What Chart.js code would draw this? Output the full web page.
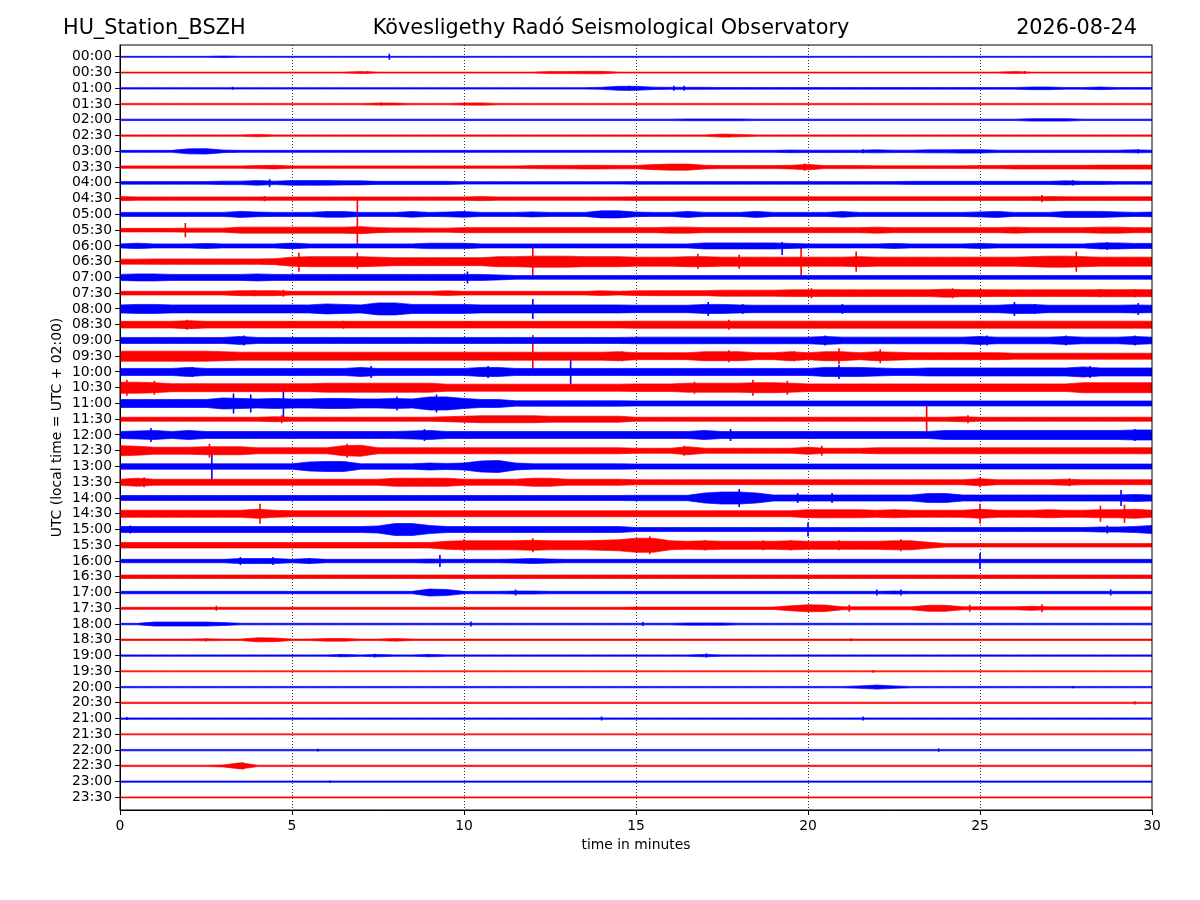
<!DOCTYPE html>
<html>
<head>
<meta charset="utf-8">
<script src="https://cdn.jsdelivr.net/npm/chart.js@4.4.0/dist/chart.umd.min.js"></script>
<style>
  body { margin: 0; background: #fff; }
  #wrap { width: 1200px; height: 900px; }
</style>
</head>
<body>
<div id="wrap"><canvas id="heli" width="1200" height="900"></canvas></div>
<script>
// header texts
var stationName = 'HU_Station_BSZH';
var observatory = 'Kövesligethy Radó Seismological Observatory';
var dayLabel = '2026-08-24';

// one trace per half hour (UTC start times)
var timeLabels = ['00:00','00:30','01:00','01:30','02:00','02:30','03:00','03:30','04:00','04:30','05:00','05:30',
  '06:00','06:30','07:00','07:30','08:00','08:30','09:00','09:30','10:00','10:30','11:00','11:30',
  '12:00','12:30','13:00','13:30','14:00','14:30','15:00','15:30','16:00','16:30','17:00','17:30',
  '18:00','18:30','19:00','19:30','20:00','20:30','21:00','21:30','22:00','22:30','23:00','23:30'];

// envelope half-amplitude of every trace, one value per half minute (0 .. 30 min)
// amplitude unit: 1/15.7 of the trace spacing
var sampleStep = 0.5;
var ampPerRow = 15.7;

var a0000 = [.5,.5,.5,.5,.5,.5,.8,.5,.5,.5, .5,.5,.5,.5,.5,.5,.5,.5,.5,.5, .5,.5,.5,.5,.5,.5,.5,.5,.5,.5, .5,.5,.5,.5,.5,.5,.5,.5,.5,.5, .5,.5,.5,.5,.5,.5,.5,.5,.5,.5, .5,.5,.5,.5,.5,.5,.5,.5,.5,.5, .5];
var a0030 = [.5,.5,.5,.5,.5,.5,.5,.5,.5,.5, .5,.5,.5,.5,1,.5,.5,.5,.5,.5, .5,.5,.5,.5,.5,1,1,1.2,1.2,.5, .5,.5,.5,.5,.5,.5,.5,.5,.5,.5, .5,.5,.5,.5,.5,.5,.5,.5,.5,.5, .5,.5,1,.5,.5,.5,.5,.5,.5,.5, .5];
var a0100 = [.7,.7,.7,.7,.7,.7,.7,.7,.7,.7, .7,.7,.7,.7,.7,.7,.7,.7,.7,.7, .7,.7,.7,.7,.7,.7,.7,.7,1,2, 2,1.2,1,1,1,.8,.8,.8,.8,.8, .8,.8,.8,.8,.8,.8,.8,.8,.8,.8, .8,.8,.8,1.3,1.3,.8,.8,1.3,.8,.8, .8];
var a0130 = [.7,.7,.7,.7,.7,.7,.7,.7,.7,.7, .7,.7,.7,.7,.7,1,1,.7,.7,.7, 1,1.2,.7,.7,.7,.7,.7,.7,.7,.7, .7,.7,.7,.7,.7,.7,.7,.7,.7,.7, .7,.7,.7,.7,.7,.7,.7,.7,.7,.7, .7,.7,.7,.7,.7,.7,.7,.7,.7,.7, .7];
var a0200 = [.7,.7,.7,.7,.7,.7,.7,.7,.7,.7, .7,.7,.7,.7,.7,.7,.7,.7,.7,.7, .7,.7,.7,.7,.7,.7,.7,.7,.7,.7, .7,.7,.7,.9,.9,.9,.9,.7,.7,.7, .7,.7,.7,.7,.7,.7,.7,.7,.7,.7, .7,.7,.7,1.2,1.2,1.2,.7,.7,.7,.7, .7];
var a0230 = [.7,.7,.7,.7,.7,.7,.7,.7,1.2,.7, .7,.7,.7,.7,.7,.7,.7,.7,.7,.7, .7,.7,.7,.7,.7,.7,.7,.7,.7,.7, .7,.7,.7,.7,.7,1.5,1.2,.7,.7,.7, .7,.7,.7,.7,.7,.7,.7,.7,.7,.7, .7,.7,.7,.7,.7,.7,.7,.7,.7,.7, .7];
var a0300 = [1,1,1,1,2.5,2.7,1.3,1,1,1, 1,1,1,1,1,1,1,1,1,1, 1,1,1,1,1,1,1,1,1,1, 1,1,1,1,1,1,1,1,1,1.3, 1.2,1.2,1.2,1.2,1.5,1.2,1.2,1.5,1.5,1.7, 1.7,1.2,1.2,1.2,1.2,1.2,1.2,1.2,1.2,1.5, 1.2];
var a0330 = [1.2,1.2,1.2,1.2,1.2,1.2,1.2,1.2,1.5,1.8, 1.2,1.2,1.2,1.2,1.2,1.2,1.2,1.2,1.2,1.2, 1.2,1.2,1.2,1.2,1.5,1.7,1.7,1.8,1.8,1.7, 1.7,2.5,3,3,1.8,1.5,1.5,1.5,1.5,1.8, 2.7,1.5,1.5,1.5,1.3,1.3,1.3,1.3,1.3,1.3, 1.5,1.5,1.8,1.8,1.8,1.8,1.8,2,2,2, 2];
var a0400 = [1.3,1.3,1.3,1.3,1.3,1.3,1.7,1.7,2.3,1.7, 2.3,2.3,2.3,2,2,1.5,1.5,1.5,1.5,1.5, 1.2,1.2,1.2,1.2,1.2,1.2,1.2,1.2,1.2,1.2, 1.3,1.3,1.3,1.3,1.3,1.3,1.3,1.3,1.3,1.3, 1.3,1.3,1.3,1.3,1.3,1.3,1.5,1.5,1.5,1.5, 1.5,1.5,1.5,1.5,1.5,2,1.5,1.5,1.3,1.3, 1.3];
var a0430 = [2,1.7,1.7,1.7,1.7,1.7,1.7,1.7,1.7,1.7, 1.7,1.7,1.7,1.7,1.7,1.7,1.7,1.7,1.7,1.7, 1.7,2,1.7,1.7,1.7,1.7,1.7,1.7,1.7,1.7, 1.8,1.8,1.8,1.8,1.8,1.8,1.8,1.8,1.8,1.8, 1.8,1.8,1.8,1.8,1.8,1.8,1.8,1.8,1.8,1.8, 1.8,1.8,1.8,1.8,2,1.8,1.8,1.8,1.8,1.8, 1.8];
var a0500 = [2,2,2,2,2,2,2,3,2.3,2, 2,2,2.8,2.8,2,2,2,2.8,2,2.3, 2.8,2,2,2,2.5,2,2,2,3.5,3.5, 2.3,2,2,3,2,2,2,3,2,2, 2,2,2.8,2,2,2,2,2,2,2, 2.5,3,2,2,2,3,3,3,2.5,2, 2.3];
var a0530 = [1.8,1.8,1.8,1.8,2,2,2,3,3,3, 3,3,3,3,3.5,2.5,2.2,2.2,2,2, 2.5,2.5,2.5,2.5,2.5,2.5,2.5,2.5,2.5,2.5, 2.5,2.5,3,3,2.5,2.5,2.5,2.5,2.5,2.5, 2.5,2.5,2.5,2.5,3,2.5,2.5,2.5,2.5,2.5, 2.5,2.5,3,2.5,2.5,2.5,2.5,3,3,2.5, 2.5];
var a0600 = [2,2.7,2,2,2,2.5,2,2,2,2, 2.8,2,2,2,2,2,2,2,2.7,2.7, 2.7,2,2,2,2,2,2,2,2,2, 2,2,2,2,3,3,3,3,3,2.5, 2,2,2,2,2,2.5,2,2,2,2, 2.5,2,2,2,2,2,2,3,3,2.5, 2.5];
var a0630 = [2.5,2.5,2.7,2.7,2.7,2.7,2.7,2.7,2.7,3, 4.5,5,5,5,5,4.5,4,4,4,4, 4,4,5,5,5.5,5.5,5.5,5,5,5, 4.5,4.5,4.5,5,5,4.5,4.5,4.5,4.5,4.5, 4.5,4.5,4.5,5,4.5,4.5,4.5,4.5,4.5,4.5, 4.5,4.5,4.5,5,5.5,5.5,5,4.5,4.5,4.5, 4.5];
var a0700 = [3,3.5,3.5,3,3,3,3,3,3.5,3, 3,3,3,3,3,3,3,3,3,3, 3,3,2.5,1.8,1.8,1.8,1.8,1.8,1.8,1.8, 1.8,1.8,1.8,1.8,1.8,1.8,1.8,1.8,1.8,1.8, 1.8,1.8,1.8,1.8,1.8,1.8,1.8,1.8,1.8,1.8, 1.8,1.8,1.8,1.8,1.8,1.8,1.8,1.8,1.8,1.8, 1.8];
var a0730 = [1.8,1.8,1.8,1.8,1.8,1.8,1.8,2.5,2.5,2.5, 1.8,1.8,1.8,1.8,1.8,1.8,1.8,1.8,1.8,2.3, 1.8,1.8,1.8,1.8,1.8,1.8,1.8,1.8,2.3,1.8, 2.3,2.5,2.5,2.5,2.5,3,3,3,3,3.3, 3.3,3.3,3.3,3.3,3.3,3.3,3.3,3.3,4,3.5, 3.5,3.3,3.3,3.3,3.3,3.3,3.3,3.5,3.5,3.5, 3.5];
var a0800 = [4,4.5,4.5,4,4,4,4,4,4,4, 4,4,5,4.5,4,6,6,4.5,4.5,4.5, 4.5,4,4,4,4,4,4,4,4,4, 3.7,3.7,3.7,3.7,4.5,4.5,4,3.7,3.7,3.7, 3.7,3.7,3.7,3.7,3.7,3.7,3.7,3.7,3.7,3.7, 3.7,3.7,4.5,4.5,3.7,3.7,3.7,3.7,3.7,4, 3.7];
var a0830 = [3.3,3.3,3.3,3.3,4,3.3,3.3,3.3,3.3,3.3, 3.3,3.3,3.3,3.3,3.3,3.3,3.3,3.3,3.3,3.3, 3.3,3.3,3.3,3.3,3.3,3.3,3.3,3.3,3.3,3.3, 3.5,3.5,3.5,3.5,3.5,3.5,3.5,3.5,3.5,3.5, 3.5,3.5,3.5,3.5,3.5,3.5,3.5,3.5,3.5,3.5, 3.5,3.5,3.5,3.5,3.5,3.5,3.5,3.5,3.5,3.5, 3.5];
var a0900 = [3,3,3,3,3,3,3,4,3,3, 3,3,3,3,3,3,3,3,3,3, 3,3,3,3,3,3,3,3,3,3, 3.3,3.3,3.3,3.3,3.3,3.3,3.3,3.3,3.3,3.3, 3.3,4,3.3,3.3,3.3,3.3,3.3,3.3,3.3,3.3, 4,3.3,3.3,3.3,3.3,4,3.3,3.3,3.3,4, 3.3];
var a0930 = [5,5,5,5,5,5,4.5,4,4,4, 4,4,4,4,4,4,4,4,4,4, 4,4,4,4,4,4,4,4,4,4.5, 3.5,3.5,3.5,3.5,4.5,4.5,4.5,3.5,3.5,4.5, 3.5,4.5,4.5,3.5,4.5,4,3.5,3.5,3.5,3.5, 3.5,3.5,3,3,3,3,3,3,3,3, 3];
var a1000 = [3.5,3.5,3.5,3.5,4.5,3.5,3.5,3.5,3.5,3.5, 3.5,3.5,3.5,3.5,4.5,3.5,3.5,3.5,3.5,3.5, 3.5,4.5,4.5,3.5,3.5,3.5,3.5,3.5,3.5,3.5, 3.5,3.5,3.5,3.5,3.5,3.5,3.5,3.5,3.5,3.5, 3.5,4.5,4.5,4.5,4,3.5,3.5,4,4,4, 4,4,4,4,4,4,5,4,4,4, 4];
var a1030 = [5.5,5.5,5,4,4,4,4,4,4,4, 4,4,4.5,4.5,4.5,4.5,4.5,4.5,4.5,3.5, 3.5,3.5,3.5,3.5,3.5,3.5,3.5,3.5,3.5,3.5, 3.8,3.8,3.8,4.5,4.5,4.5,4.5,5,5,4.5, 3.8,3.8,3.8,3.8,3.8,3.8,3.8,3.8,3.8,3.8, 3.8,3.8,3.8,3.8,3.8,3.8,5,5,5,5, 5];
var a1100 = [4,4,4,4,4,4,5.5,5,4.5,5, 4.5,4.5,5,5,4.5,4.5,5,4.5,6.5,6.5, 5,4,4,2.7,2.7,2.7,2.7,2.7,2.7,2.7, 2.5,2.5,2.5,2.5,2.5,2.5,2.5,2.5,2.5,2.5, 2.5,2.5,2.5,2.5,2.5,2.5,2.5,2.5,2.5,2.5, 2.5,2.5,2.5,2.5,2.5,2.5,2.5,2.5,2.5,2.5, 2.5];
var a1130 = [2,2,2,2,2,2,2,2,2,2.5, 2,2,2,2,2,2,2,2,2,2.5, 3,3.5,3.5,3.5,3.5,3,3,3,3,3, 2,2,2,2,2,2,2,2,2,2, 2,2,2,2,2,2,2,2,2,2.5, 2,2,2,2,2,2,2,2,2,2, 2];
var a1200 = [3.5,4,4.5,3.5,4.5,3.5,3.5,3.5,3.5,3.5, 3.5,3.5,3.5,3.5,3.5,3.5,3.5,4,4.5,3.5, 3.5,3.5,3.5,3.5,3.5,3.5,3.5,3.5,3.5,3.5, 3.5,3.5,3.5,3.5,4.5,3.5,3.5,3.5,3.5,3.5, 3.5,3.5,3.5,3.5,3.5,3.5,3.5,3.5,4.5,4.5, 4.5,4.5,4.5,4.5,4.5,4.5,4.5,4.5,4.5,5, 5];
var a1230 = [5,4.5,3.5,3.5,3.5,4,4,4,3,3, 3,3,3,5,5.5,3,3,3,3,3, 3,3,3,3,3,3,3,3,3,3, 2.5,2.5,2.5,4,2.5,2.5,2.5,2.5,2.5,2.5, 3.5,2.5,2.5,2.5,3,3,3,3,3,3, 3,3,3,3,3,3,3,3,3,3, 3];
var a1300 = [2.7,2.7,2.7,2.7,2.7,2.7,2.7,2.7,2.7,2.7, 2.7,4.5,5,5,2.7,2.7,2.7,2.7,3.5,3, 3.5,5.5,6,3.5,2.7,2.7,2.7,2.7,2.7,2.7, 2.5,2.5,2.5,2.5,2.5,2.5,2.5,2.5,2.5,2.5, 2.5,2.5,2.5,2.5,2.5,2.5,2.5,2.5,2.5,2.5, 2.5,2.5,2.5,2.5,2.5,2.5,2.5,2.5,2.5,2.5, 2.5];
var a1330 = [3,4,3,3,3,3,3,3,3,3, 3,3,3,3,3,3,4,4,4,4, 3,3,3,3,4,4,3,3,3,3, 2.5,2.5,2.5,2.5,2.5,2.5,2.5,2.5,2.5,2.5, 2.5,2.5,2.5,2.5,2.5,2.5,2.5,2.5,2.5,2.5, 3.5,2.5,2.5,2.5,2.5,3,2.5,2.5,2.5,2.5, 2.5];
var a1400 = [2.5,2.5,2.5,2.5,2.5,2.5,2.5,2.5,2.5,2.5, 2.5,2.5,2.5,2.5,2.5,2.5,2.5,2.5,2.5,2.5, 2.5,2.5,2.5,2.5,2.5,2.5,2.5,2.5,2.5,2.5, 2.7,2.7,2.7,2.7,5,6,6,5,3,3, 3,3,3,3,3,3,3,4.5,4.5,3, 3,3,3,3,3,3,3,3,3,3.5, 3];
var a1430 = [3.5,3.5,3.5,3.5,3.5,3.5,3.5,3.5,4.5,3.5, 3,3,3,3,3,3,3,3,3,3, 3,3,3,3,3,3,3,3,3,3, 3,3,3,3,3,3,3,3,3,3, 4,4,4,4,3.5,4,3.5,3.5,3.5,3.5, 4.5,3.5,3.5,3.5,4,3.5,3.5,4,4,4.5, 3.5];
var a1500 = [3,3,3,3,3,3,3,3,3,3, 3,3,3,3,3,3.5,6,6,4,3, 3,3,3,3,3,3,3,3,3,3, 2,2,2,2,2,2,2,2,2,2, 2,2,2,2,2,2,2,2,2,2, 2,2,2,2,2,2,2,2.5,2.5,3, 4];
var a1530 = [2.7,2.7,2.7,2.7,2.7,2.7,2.7,2.7,2.7,2.7, 2.7,2.7,2.7,2.7,2.7,2.7,2.7,2.7,2.7,4, 4.5,4.5,4.5,4.5,5,4.5,4.5,4.5,5,5.5, 7,7,4.5,4,4.5,4,4,4,4,4.5, 4,4,4,4,4,4.5,4.5,3,1.7,1.7, 1.7,1.7,1.7,1.7,1.7,1.7,1.7,1.7,1.7,1.7, 1.7];
var a1600 = [1.7,1.7,1.7,1.7,1.7,1.7,1.7,2.5,2.5,2.5, 1.7,2.5,1.7,1.7,1.7,1.7,1.7,1.7,2,1.7, 1.7,1.7,1.7,2,2.5,2,1.7,1.7,1.7,1.7, 1.7,1.7,1.7,1.7,1.7,1.7,1.7,1.7,1.7,1.7, 1.7,1.7,1.7,1.7,1.7,1.7,1.7,1.7,1.7,1.7, 1.7,1.7,1.7,1.7,1.7,1.7,1.7,1.7,1.7,1.7, 1.7];
var a1630 = [1.7,1.7,1.7,1.7,1.7,1.7,1.7,1.7,1.7,1.7, 1.7,1.7,1.7,1.7,1.7,1.7,1.7,1.7,1.7,1.7, 1.7,1.7,1.7,1.7,1.7,1.7,1.7,1.7,1.7,1.7, 1.7,1.7,1.7,1.7,1.7,1.7,1.7,1.7,1.7,1.7, 1.7,1.7,1.7,1.7,1.7,1.7,1.7,1.7,1.7,1.7, 1.7,1.7,1.7,1.7,1.7,1.7,1.7,1.7,1.7,1.7, 1.7];
var a1700 = [1.2,1.2,1.2,1.2,1.2,1.2,1.2,1.2,1.2,1.2, 1.2,1.2,1.2,1.2,1.2,1.2,1.2,1.2,3.5,3, 1.2,1.2,1.2,1.5,1.5,1.2,1.2,1.2,1.2,1.2, 1.2,1.2,1.2,1.2,1.2,1.2,1.2,1.2,1.2,1.2, 1.2,1.2,1.2,1.2,1.2,1.5,1.2,1.2,1.2,1.2, 1.2,1.2,1.2,1.2,1.2,1.2,1.2,1.2,1.2,1.2, 1.2];
var a1730 = [1,1,1,1,1,1,1,1,1,1, 1,1,1,1,1,1,1,1,1,1, 1,1,1,1,1,1,1,1,1,1, 1.2,1.2,1.2,1.2,1.2,1.2,1.2,1.2,1.2,2.5, 3.5,3.2,1.5,1.5,1.5,1.5,1.5,3,3,1.5, 1.5,1.5,1.5,2,1.5,1.5,1.5,1.5,1.5,1.5, 1.5];
var a1800 = [.7,.7,2,2,2,2,1.5,.8,.8,.8, .8,.8,.8,.8,.8,.8,.8,.8,.8,.8, .8,.8,.8,.8,.8,.8,.8,.8,.8,.8, .8,.8,.8,1.1,1.1,1.1,.8,.8,.8,.8, .8,.8,.8,.8,.8,.8,.8,.8,.8,.8, .8,.8,.8,.8,.8,.8,.8,.8,.8,.8, .8];
var a1830 = [.7,.7,.7,.7,.7,1,.7,.7,2,1.8, .7,.7,1.3,1.3,.7,.7,1.3,.7,.7,.7, .7,.7,.7,.7,.7,.7,.7,.7,.7,.7, .7,.7,.7,.7,.7,.7,.7,.7,.7,.7, .7,.7,.7,.7,.7,.7,.7,.7,.7,.7, .7,.7,.7,.7,.7,.7,.7,.7,.7,.7, .7];
var a1900 = [.7,.7,.7,.7,.7,.7,.7,.7,.7,.7, .7,.7,.7,1.2,.7,1.2,.7,.7,1.2,.7, .7,.7,.7,.7,.7,.7,.7,.7,.7,.7, .7,.7,.7,.7,1.2,.7,.7,.7,.7,.7, .7,.7,.7,.7,.7,.7,.7,.7,.7,.7, .7,.7,.7,.7,.7,.7,.7,.7,.7,.7, .7];
var a1930 = [.5,.5,.5,.5,.5,.5,.5,.5,.5,.5, .5,.5,.5,.5,.5,.5,.5,.5,.5,.5, .5,.5,.5,.5,.5,.5,.5,.5,.5,.5, .5,.5,.5,.5,.5,.5,.5,.5,.5,.5, .5,.5,.5,.5,.5,.5,.5,.5,.5,.5, .5,.5,.5,.5,.5,.5,.5,.5,.5,.5, .5];
var a2000 = [.7,.7,.7,.7,.7,.7,.7,.7,.7,.7, .7,.7,.7,.7,.7,.7,.7,.7,.7,.7, .7,.7,.7,.7,.7,.7,.7,.7,.7,.7, .7,.7,.7,.7,.7,.7,.7,.7,.7,.7, .7,.7,.7,1.2,2,1.2,.7,.7,.7,.7, .7,.7,.7,.7,.7,.7,.7,.7,.7,.7, .7];
var a2030 = [.7,.7,.7,.7,.7,.7,.7,.7,.7,.7, .7,.7,.7,.7,.7,.7,.7,.7,.7,.7, .7,.7,.7,.7,.7,.7,.7,.7,.7,.7, .7,.7,.7,.7,.7,.7,.7,.7,.7,.7, .7,.7,.7,.7,.7,.7,.7,.7,.7,.7, .7,.7,.7,.7,.7,.7,.7,.7,.7,.7, .7];
var a2100 = [.7,.7,.7,.7,.7,.7,.7,.7,.7,.7, .7,.7,.7,.7,.7,.7,.7,.7,.7,.7, .7,.7,.7,.7,.7,.7,.7,.7,.7,.7, .7,.7,.7,.7,.7,.7,.7,.7,.7,.7, .7,.7,.7,.7,.7,.7,.7,.7,.7,.7, .7,.7,.7,.7,.7,.7,.7,.7,.7,.7, .7];
var a2130 = [.5,.5,.5,.5,.5,.5,.5,.5,.5,.5, .5,.5,.5,.5,.5,.5,.5,.5,.5,.5, .5,.5,.5,.5,.5,.5,.5,.5,.5,.5, .5,.5,.5,.5,.5,.5,.5,.5,.5,.5, .5,.5,.5,.5,.5,.5,.5,.5,.5,.5, .5,.5,.5,.5,.5,.5,.5,.5,.5,.5, .5];
var a2200 = [.7,.7,.7,.7,.7,.7,.7,.7,.7,.7, .7,.7,.7,.7,.7,.7,.7,.7,.7,.7, .7,.7,.7,.7,.7,.7,.7,.7,.7,.7, .7,.7,.7,.7,.7,.7,.7,.7,.7,.7, .7,.7,.7,.7,.7,.7,.7,.7,.7,.7, .7,.7,.7,.7,.7,.7,.7,.7,.7,.7, .7];
var a2230 = [.7,.7,.7,.7,.7,.7,1,3,.7,.7, .7,.7,.7,.7,.7,.7,.7,.7,.7,.7, .7,.7,.7,.7,.7,.7,.7,.7,.7,.7, .7,.7,.7,.7,.7,.7,.7,.7,.7,.7, .7,.7,.7,.7,.7,.7,.7,.7,.7,.7, .7,.7,.7,.7,.7,.7,.7,.7,.7,.7, .7];
var a2300 = [.6,.6,.6,.6,.6,.6,.6,.6,.6,.6, .6,.6,.6,.6,.6,.6,.6,.6,.6,.6, .6,.6,.6,.6,.6,.6,.6,.6,.6,.6, .6,.6,.6,.6,.6,.6,.6,.6,.6,.6, .6,.6,.6,.6,.6,.6,.6,.6,.6,.6, .6,.6,.6,.6,.6,.6,.6,.6,.6,.6, .6];
var a2330 = [.5,.5,.5,.5,.5,.5,.5,.5,.5,.5, .5,.5,.5,.5,.5,.5,.5,.5,.5,.5, .5,.5,.5,.5,.5,.5,.5,.5,.5,.5, .5,.5,.5,.5,.5,.5,.5,.5,.5,.5, .5,.5,.5,.5,.5,.5,.5,.5,.5,.5, .5,.5,.5,.5,.5,.5,.5,.5,.5,.5, .5];

var envelopes = [a0000,a0030,a0100,a0130,a0200,a0230,a0300,a0330,a0400,a0430,a0500,a0530,
  a0600,a0630,a0700,a0730,a0800,a0830,a0900,a0930,a1000,a1030,a1100,a1130,
  a1200,a1230,a1300,a1330,a1400,a1430,a1500,a1530,a1600,a1630,a1700,a1730,
  a1800,a1830,a1900,a1930,a2000,a2030,a2100,a2130,a2200,a2230,a2300,a2330];

// short spikes: [trace, minute, amplitude up, amplitude down]
var spikes = [
  [0,7.83,3,3], [1,7.2,1.5,1.5], [1,26.3,1.5,1.5],
  [2,3.27,1.5,1.5], [2,14.8,2.5,2.5], [2,16.1,2.5,2.5], [2,16.4,2.5,2.5],
  [3,7.6,1.5,1.5], [5,17.7,1.7,1.7], [6,21.6,2,2], [6,29.6,2,2], [7,19.9,3.5,3.5],
  [8,4.35,3.5,4], [8,27.7,2.5,2.5], [9,4.2,2.5,2.5], [9,26.8,3.5,3.5],
  [11,1.9,7,7], [11,6.9,33,15], [12,19.25,4,9], [12,28.7,4,4],
  [13,5.2,9,10], [13,6.9,9,7], [13,12.0,15,15], [13,16.8,8,7], [13,18.0,7,7], [13,19.8,16,16], [13,21.4,10,10], [13,27.8,10,10],
  [14,10.1,6,6],
  [15,3.9,3,3], [15,4.75,3.5,3.5], [15,20.1,5,5], [15,24.2,5,5], [15,25.0,4,4], [15,28.5,4,4], [15,29.5,4,4],
  [16,12.0,10,10], [16,17.1,7,7], [16,18.1,5,5], [16,21.0,5,5], [16,26.0,7,7], [16,26.6,5,5], [16,29.6,6,6],
  [17,1.95,5,5], [17,6.5,4,4], [17,17.7,5,5],
  [18,3.6,5,5], [18,20.5,5,5], [18,25.2,5,5], [18,27.5,5,5], [18,29.5,5,5],
  [19,12.0,21,16], [19,14.6,5,5], [19,17.7,6,6], [19,19.6,5,5], [19,20.9,8,8], [19,22.1,7,7],
  [20,2.1,5,5], [20,7.3,6,6], [20,10.7,6,6], [20,13.1,15,15], [20,20.9,7,7], [20,28.2,6,6],
  [21,0.2,8,8], [21,1.0,7,7], [21,16.7,6,6], [21,18.4,8,8], [21,19.4,7,7],
  [22,3.3,10,10], [22,3.8,9,9], [22,4.75,19,17], [22,8.05,7,7], [22,9.2,9,9],
  [23,4.7,4,4], [23,23.45,15,15], [23,24.65,4,4],
  [24,0.9,7,7], [24,8.85,6,6], [24,17.75,6,6], [24,29.5,6,6],
  [25,2.6,7,7], [25,6.6,7,7], [25,16.4,5,5], [25,20.4,5,5],
  [26,2.67,19,16],
  [27,0.7,5,5], [27,25.0,5,5], [27,27.6,4,4],
  [28,18.0,9,9], [28,19.7,5,5], [28,20.7,5,5], [28,29.1,8,8],
  [29,4.07,10,10], [29,25.0,10,10], [29,27.2,4,4], [29,28.5,8,8], [29,29.2,9,9],
  [30,0.3,4,4], [30,20.0,7,7], [30,28.7,4,4],
  [31,10.0,6,6], [31,12.0,7,7], [31,15.4,9,9], [31,17.0,5,5], [31,18.7,5,5], [31,19.5,5,5], [31,20.9,5,5], [31,22.7,6,6],
  [32,3.5,4,4], [32,4.45,4,4], [32,5.5,3,3], [32,9.3,6,6], [32,25.0,8,8],
  [34,11.5,3,3], [34,22.0,3,3], [34,22.7,3,3], [34,28.8,3,3],
  [35,2.8,2.5,2.5], [35,21.2,3.5,3.5], [35,24.7,3.5,3.5], [35,26.8,4,4],
  [36,10.2,2.5,2.5], [36,15.2,2,2], [37,2.5,1.5,1.5], [37,21.25,1.5,1.5],
  [38,6.4,1.5,1.5], [38,7.4,1.8,1.8], [38,8.95,1.5,1.5], [38,17.05,2,2],
  [39,21.9,1.3,1.3], [40,22.0,2,2], [40,27.7,1.2,1.2], [41,29.5,1.7,1.7],
  [42,0.2,1.5,1.5], [42,14.0,2,2], [42,21.6,2,2],
  [44,5.75,1.3,1.3], [44,23.8,1.5,1.5], [45,3.57,3.5,3.5], [46,6.1,1.2,1.2]
];

var traceColors = ['#0000ff', '#ff0000'];
var xTicks = [0, 5, 10, 15, 20, 25, 30];

var datasets = [];
envelopes.forEach(function (env, row) {
  var color = traceColors[row % 2];
  var up = env.map(function (a, k) { return { x: k * sampleStep, y: row - a / ampPerRow }; });
  var down = env.map(function (a, k) { return { x: k * sampleStep, y: row + a / ampPerRow }; });
  datasets.push({ data: up, borderColor: color, backgroundColor: color, borderWidth: 0.7, pointRadius: 0, fill: '+1' });
  datasets.push({ data: down, borderColor: color, backgroundColor: color, borderWidth: 0.7, pointRadius: 0, fill: false });
});
envelopes.forEach(function (env, row) {
  var pts = [];
  spikes.forEach(function (s) {
    if (s[0] !== row) return;
    pts.push({ x: s[1], y: row - s[2] / ampPerRow });
    pts.push({ x: s[1], y: row + s[3] / ampPerRow });
    pts.push({ x: s[1], y: null });
  });
  if (pts.length) {
    datasets.push({ data: pts, borderColor: traceColors[row % 2], borderWidth: 1.6, pointRadius: 0, fill: false, spanGaps: false });
  }
});

var frame = {
  id: 'frame',
  afterDraw: function (chart) {
    var c = chart.ctx, a = chart.chartArea;
    c.save();
    c.strokeStyle = '#000';
    c.lineWidth = 1;
    c.strokeRect(a.left, a.top, a.right - a.left, a.bottom - a.top);
    c.fillStyle = '#000';
    c.font = '20.8px "DejaVu Sans"';
    c.textBaseline = 'middle';
    c.textAlign = 'left';
    c.fillText(stationName, 63, 29);
    c.textAlign = 'center';
    c.fillText(observatory, 611, 29);
    c.textAlign = 'right';
    c.fillText(dayLabel, 1137, 29);
    c.restore();
  }
};

Chart.defaults.font.family = '"DejaVu Sans"';
Chart.defaults.font.size = 13.9;
Chart.defaults.color = '#000';

new Chart(document.getElementById('heli'), {
  type: 'line',
  data: { datasets: datasets },
  plugins: [frame],
  options: {
    responsive: false,
    animation: false,
    events: [],
    layout: { padding: { top: 45, right: 48, bottom: 0, left: 0 } },
    plugins: { legend: { display: false }, tooltip: { enabled: false } },
    elements: { line: { tension: 0 } },
    scales: {
      x: {
        type: 'linear', min: 0, max: 30,
        afterFit: function (s) { s.height = 90; },
        afterBuildTicks: function (s) { s.ticks = xTicks.map(function (v) { return { value: v }; }); },
        ticks: { autoSkip: false, maxRotation: 0, padding: 3 },
        grid: {
          color: function (c) { return (c.tick && c.tick.value > 0 && c.tick.value < 30) ? '#000' : 'rgba(0,0,0,0)'; },
          lineWidth: 0.8, tickColor: '#000', tickLength: 5, tickWidth: 1
        },
        border: { color: '#000', width: 1, dash: [1, 2] },
        title: { display: true, text: 'time in minutes', padding: { top: 0, bottom: 46.7 } }
      },
      y: {
        type: 'linear', reverse: true, min: -0.75, max: 47.8,
        afterFit: function (s) { s.width = 120; },
        afterBuildTicks: function (s) { s.ticks = timeLabels.map(function (t, i) { return { value: i }; }); },
        ticks: { autoSkip: false, padding: 3, callback: function (v) { return timeLabels[v]; } },
        grid: { drawOnChartArea: false, tickColor: '#000', tickLength: 5, tickWidth: 1 },
        border: { color: '#000', width: 1 },
        title: { display: true, text: 'UTC (local time = UTC + 02:00)', padding: { top: 48.7, bottom: 0 } }
      }
    }
  }
});
</script>
</body>
</html>
